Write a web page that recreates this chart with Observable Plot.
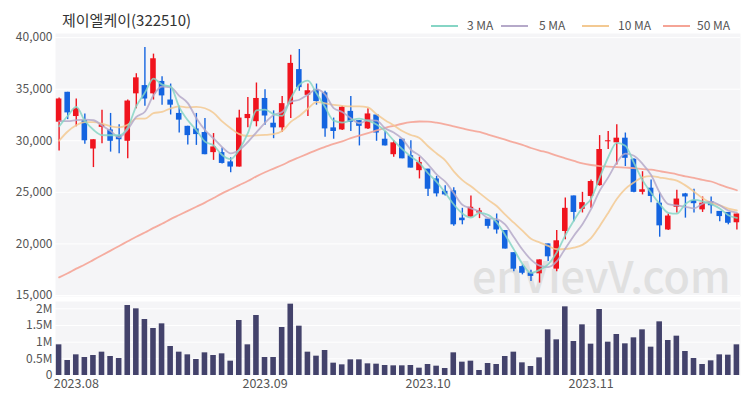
<!DOCTYPE html>
<html><head><meta charset="utf-8">
<script src="https://cdn.jsdelivr.net/npm/d3@7"></script>
<script src="https://cdn.jsdelivr.net/npm/@observablehq/plot@0.6"></script>
<style>
body{margin:0;background:#fff;}
#wrap{position:relative;width:750px;height:400px;font-family:"Noto Sans CJK KR","Noto Sans",sans-serif;overflow:hidden;background:#fff;}
#title{position:absolute;left:62px;top:10px;font-size:15px;color:#333;line-height:20px;white-space:nowrap;}
.leg{position:absolute;top:17px;font-size:12px;color:#555;line-height:16px;white-space:nowrap;}
.legline{position:absolute;top:25px;height:2px;}
#price{position:absolute;left:0;top:0;}
#vol{position:absolute;left:0;top:296px;}
svg{overflow:visible;}
</style></head><body>
<div id="wrap">
  <div id="price"></div>
  <div id="vol"></div>
  <div id="title">제이엘케이(322510)</div>
  <div id="legend"></div>
</div>
<script>
const dates = ["2023-07-28","2023-07-31","2023-08-01","2023-08-02","2023-08-03","2023-08-04","2023-08-07","2023-08-08","2023-08-09","2023-08-10",
"2023-08-11","2023-08-14","2023-08-16","2023-08-17","2023-08-18","2023-08-21","2023-08-22","2023-08-23","2023-08-24","2023-08-25",
"2023-08-28","2023-08-29","2023-08-30","2023-08-31","2023-09-01","2023-09-04","2023-09-05","2023-09-06","2023-09-07","2023-09-08",
"2023-09-11","2023-09-12","2023-09-13","2023-09-14","2023-09-15","2023-09-18","2023-09-19","2023-09-20","2023-09-21","2023-09-22",
"2023-09-25","2023-09-26","2023-09-27","2023-10-04","2023-10-05","2023-10-06","2023-10-10","2023-10-11","2023-10-12","2023-10-13",
"2023-10-16","2023-10-17","2023-10-18","2023-10-19","2023-10-20","2023-10-23","2023-10-24","2023-10-25","2023-10-26","2023-10-27",
"2023-10-30","2023-10-31","2023-11-01","2023-11-02","2023-11-03","2023-11-06","2023-11-07","2023-11-08","2023-11-09","2023-11-10",
"2023-11-13","2023-11-14","2023-11-15","2023-11-16","2023-11-17","2023-11-20","2023-11-21","2023-11-22","2023-11-23","2023-11-24"];

const open = [31800,34700,32350,31950,29200,31300,31050,30500,29950,34550,
35350,34550,35750,33950,32650,31400,31150,30800,28850,28850,
27950,27450,32150,31850,34100,31700,31250,33500,36900,34400,
34950,34650,31250,31050,32850,31950,31150,32500,30150,28650,
30150,28550,27100,27250,26300,25100,25150,22500,22600,23000,
22400,22250,21300,19150,17800,17200,17100,20000,17550,21200,
24650,23350,24600,25650,29900,29800,30250,28200,25000,25400,
23950,21350,23550,24850,24200,23300,24100,23150,23050,22050];
const high = [34150,34700,34050,32600,30100,32950,32650,31550,33950,36500,
39050,38400,36200,35500,33350,31400,32650,32150,30700,29300,
28350,32950,34200,35600,34950,32900,34300,38300,38850,35500,
35500,34800,32200,33350,34300,31950,33100,32500,30900,30000,
30150,30000,28400,27250,26550,25650,25450,23450,24650,23450,
22400,22900,21300,19150,17950,17450,18450,20000,21300,24450,
24650,25000,26200,30500,30900,31550,30750,28250,27000,26200,
24900,22900,25200,24900,25300,24550,24550,23150,23050,22900];
const low = [29000,32050,31350,29650,27400,29700,28900,28750,28250,33100,
33350,33950,33450,32500,30750,29600,29550,28650,28100,27750,
26900,27450,31250,31350,31500,30200,30800,32150,34800,32350,
33450,30350,30150,31000,30900,29500,31100,29950,29500,28400,
28250,27350,26300,24600,24550,24650,21700,21850,22600,22450,
21450,20950,19500,17300,17000,16350,16200,18300,17300,20400,
22150,23000,23450,25600,29150,27650,27500,24950,24750,24000,
20650,21300,23000,22500,23000,23050,22900,22150,21850,21350];
const close = [34050,32700,33100,30000,30100,31550,29950,30100,33850,36100,
34050,37950,34350,33450,32000,30500,30600,28650,29400,27800,
27450,32200,32550,34100,32400,31250,33600,37500,35150,34850,
33800,31150,30900,33250,31800,31400,32600,30750,29500,29800,
28250,27350,27900,25300,24850,24750,21850,22250,23550,23200,
21700,21350,19500,17550,17150,16850,18450,18750,20300,23450,
23050,24000,26050,29150,30000,30250,28300,25000,25250,24600,
21750,22700,24350,24550,23900,23950,23700,22650,22000,22900];
const volume = [920000,450000,620000,540000,600000,700000,570000,510000,2100000,2000000,
1680000,1410000,1550000,870000,700000,620000,480000,680000,600000,650000,
430000,1650000,920000,1800000,540000,540000,1440000,2140000,1480000,700000,
580000,750000,370000,320000,470000,470000,350000,340000,300000,290000,
290000,300000,220000,330000,280000,210000,680000,400000,430000,150000,
360000,330000,570000,700000,380000,270000,530000,1370000,1070000,2060000,
1020000,1520000,940000,1980000,1000000,1230000,950000,1130000,1370000,850000,
1610000,1050000,1180000,720000,510000,330000,440000,620000,610000,920000];
const ma50 = [16750,17150,17600,18000,18450,18900,19350,19800,20250,20700,
21100,21550,21950,22400,22800,23200,23600,24000,24450,24900,
25300,25700,26100,26550,26950,27300,27650,28050,28400,28750,
29100,29400,29700,29950,30250,30500,30750,31000,31250,31450,
31650,31800,31870,31850,31750,31600,31400,31200,31000,30850,
30600,30350,30100,29850,29600,29300,29050,28850,28550,28300,
28050,27800,27650,27550,27500,27450,27400,27350,27250,27200,
27050,26900,26750,26550,26400,26200,26050,25750,25450,25200];
// moving-average values at the first dates (window reaches before the shown range)
const ma3Head = [31400,32400];
const ma5Head = [31900,31900,32000,32050];
const ma10Head = [30000,30900,31500,31800,31800,31650,31400,31300,31550];

const priceTicks = [15000,20000,25000,30000,35000,40000];
const volumeTicks = [0,500000,1000000,1500000,2000000];
const monthTicks = ["2023-08-01","2023-09-01","2023-10-04","2023-11-01"];
const monthLabels = ["2023.08","2023.09","2023.10","2023.11"];
const seriesNames = ["3 MA","5 MA","10 MA","50 MA"];
const seriesColors = ["#86d5c5","#b5a9c9","#f3c992","#f5a496"];

const UP = "#f0141e", DOWN = "#1464e0", VOL = "#43426b";

function rolling(k, head) {
  return close.map((c, i) => i < k - 1 ? head[i] : d3.mean(close.slice(i - k + 1, i + 1)));
}
const ma3 = rolling(3, ma3Head), ma5 = rolling(5, ma5Head), ma10 = rolling(10, ma10Head);

const rows = dates.map((d, i) => ({
  date: d, open: open[i], high: high[i], low: low[i], close: close[i], volume: volume[i],
  ma3: ma3[i], ma5: ma5[i], ma10: ma10[i], ma50: ma50[i],
  up: close[i] >= open[i]
}));

const xScale = {type: "band", domain: dates, paddingInner: 0.35, paddingOuter: 0.095};
const font = '"Noto Sans CJK KR","Noto Sans",sans-serif';

const price = Plot.plot({
  width: 750, height: 300,
  marginLeft: 55, marginRight: 10, marginTop: 33, marginBottom: 4,
  style: {fontFamily: font, fontSize: "12px", color: "#555", background: "transparent", overflow: "visible"},
  x: {...xScale, axis: null},
  y: {domain: [14900, 40400], axis: null},
  marks: [
    Plot.frame({fill: "#f5f5f7", stroke: null}),
    Plot.gridY(priceTicks, {stroke: "#ffffff", strokeOpacity: 1, strokeWidth: 1}),
    Plot.axisY(priceTicks, {tickSize: 0, tickPadding: 3, tickFormat: d3.format(","), label: null, fill: "#555"}),
    Plot.text(["enVievV.com"], {frameAnchor: "bottom-right", text: d => d, fontSize: 43, fill: "#e0e0e0", dx: -10, dy: -4, fontWeight: 500}),
    Plot.ruleX(rows, {x: "date", y1: "low", y2: "high", stroke: d => d.up ? UP : DOWN, strokeWidth: 1.4}),
    Plot.barY(rows, {x: "date", y1: "open", y2: "close", fill: d => d.up ? UP : DOWN}),
    Plot.line(rows, {x: "date", y: "ma50", stroke: seriesColors[3], strokeWidth: 1.8, strokeOpacity: 0.9, curve: "monotone-x"}),
    Plot.line(rows, {x: "date", y: "ma10", stroke: seriesColors[2], strokeWidth: 1.8, strokeOpacity: 0.85, curve: "monotone-x"}),
    Plot.line(rows, {x: "date", y: "ma5", stroke: seriesColors[1], strokeWidth: 1.8, strokeOpacity: 0.85, curve: "monotone-x"}),
    Plot.line(rows, {x: "date", y: "ma3", stroke: seriesColors[0], strokeWidth: 1.8, strokeOpacity: 0.85, curve: "monotone-x"})
  ]
});
document.getElementById("price").appendChild(price);

const vol = Plot.plot({
  width: 750, height: 104,
  marginLeft: 55, marginRight: 10, marginTop: 5, marginBottom: 25,
  style: {fontFamily: font, fontSize: "12px", color: "#555", background: "transparent", overflow: "visible"},
  x: {...xScale, axis: null},
  y: {domain: [0, 2220000], axis: null},
  marks: [
    Plot.frame({fill: "#f5f5f7", stroke: null}),
    Plot.gridY(volumeTicks, {stroke: "#ffffff", strokeOpacity: 1, strokeWidth: 1}),
    Plot.axisY(volumeTicks, {tickSize: 0, tickPadding: 3, tickFormat: d => d === 0 ? "0" : (d / 1e6) + "M", label: null, fill: "#555"}),
    Plot.axisX(monthTicks, {tickSize: 0, tickPadding: 4, tickFormat: d => monthLabels[monthTicks.indexOf(d)], label: null, fill: "#555", fontSize: "12.5px"}),
    Plot.barY(rows, {x: "date", y: "volume", fill: VOL})
  ]
});
document.getElementById("vol").appendChild(vol);

// legend
const legendPos = [[431, 467], [501, 539], [582, 618], [663, 697]];
const lg = document.getElementById("legend");
seriesNames.forEach((name, i) => {
  const ln = document.createElement("div");
  ln.className = "legline";
  ln.style.left = legendPos[i][0] + "px";
  ln.style.width = "27px";
  ln.style.background = seriesColors[i];
  lg.appendChild(ln);
  const tx = document.createElement("div");
  tx.className = "leg";
  tx.style.left = legendPos[i][1] + "px";
  tx.textContent = name;
  lg.appendChild(tx);
});
</script>
</body></html>
